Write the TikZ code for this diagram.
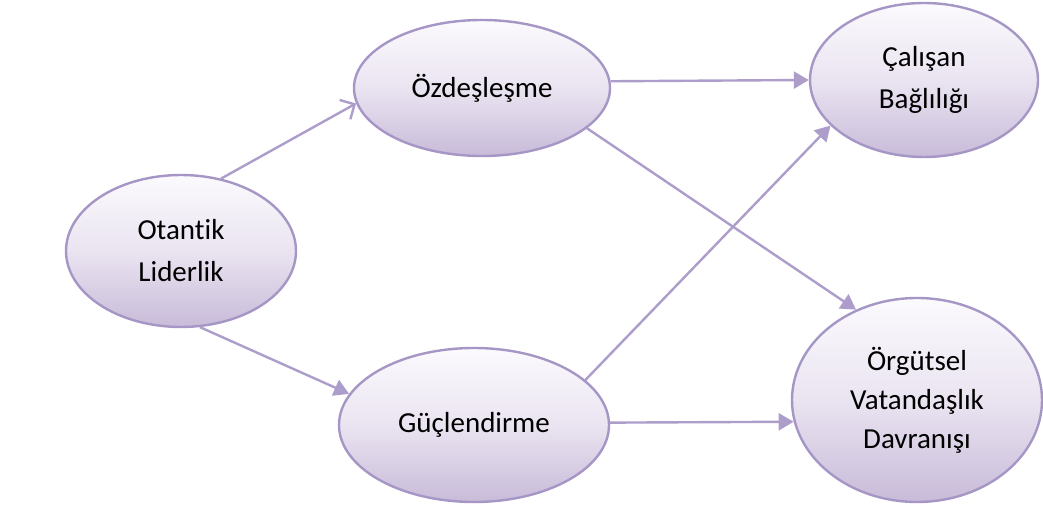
\documentclass[tikz,border=0pt]{standalone}
\usepackage{fontspec}
\setmainfont{Carlito}[Ligatures=NoCommon]
\usetikzlibrary{shapes.geometric,arrows.meta}

\definecolor{edgepurple}{RGB}{166,150,198}
\definecolor{linkpurple}{RGB}{172,157,203}
\definecolor{filltop}{RGB}{251,250,253}
\definecolor{fillmid}{RGB}{234,228,241}
\definecolor{fillbot}{RGB}{200,187,217}

\tikzset{
  concept/.style={ellipse, draw=edgepurple, line width=2.4pt,
    top color=filltop, bottom color=fillbot, middle color=fillmid,
    inner sep=0pt, align=center,
    font=\fontsize{29}{42}\selectfont},
  link/.style={draw=linkpurple, line width=2.4pt,
    -{Triangle[length=15pt,width=17pt]}},
  openlink/.style={draw=linkpurple, line width=2.4pt,
    -{Straight Barb[length=11pt,width=22pt]}}
}

\begin{document}
\begin{tikzpicture}[x=1pt,y=1pt]
  \useasboundingbox (0,0) rectangle (1043,506);

  % constructs of the model
  \node[concept, minimum width=230pt, minimum height=152pt] (ota) at (181,255) {Otantik\\Liderlik};
  \node[concept, minimum width=256pt, minimum height=136pt] (ozd) at (482,418) {Özdeşleşme};
  \node[concept, minimum width=270pt, minimum height=154pt] (guc) at (474,81)  {Güçlendirme};
  \node[concept, minimum width=228pt, minimum height=154pt] (cal) at (924,426) {Çalışan\\Bağlılığı};
  \node[concept, minimum width=250pt, minimum height=204pt,
        font=\fontsize{29}{39}\selectfont] (org) at (917,106) {Örgütsel\\Vatandaşlık\\Davranışı};

  % hypothesised paths
  \draw[openlink] (ota.61)  -- (ozd.187);
  \draw[link]     (ota.-76) -- (guc.166);
  \draw[link]     (ozd.3.6) -- (cal.180);
  \draw[link]     (ozd.-21) -- (org.124);
  \draw[link]     (guc.22)  -- (cal.206);
  \draw[link]     (guc.1.3) -- (org.190.2);
\end{tikzpicture}
\end{document}
